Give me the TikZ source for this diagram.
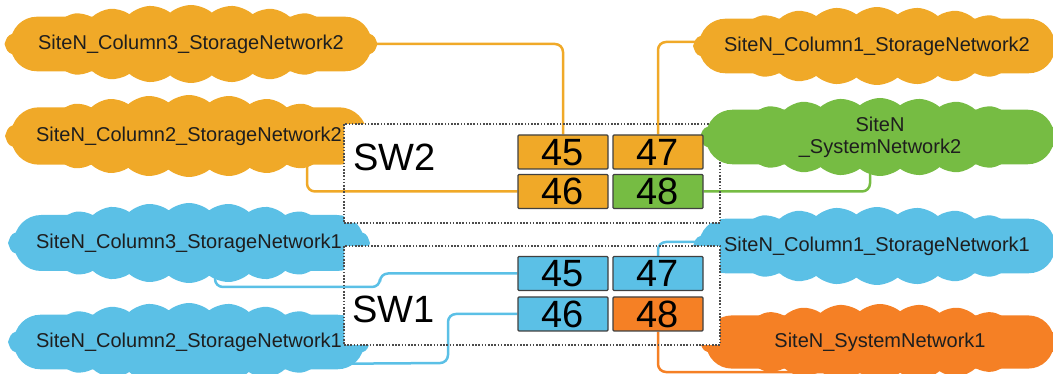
\documentclass[tikz,border=0pt]{standalone}
\usepackage{fontspec}
\setmainfont{Liberation Sans}
\usetikzlibrary{shapes.symbols}
\pgfdeclarelayer{bg}
\pgfsetlayers{bg,main}
\definecolor{corange}{RGB}{240,169,40}
\definecolor{cblue}{RGB}{91,192,230}
\definecolor{cgreen}{RGB}{118,188,67}
\definecolor{cred}{RGB}{245,128,37}
\definecolor{ctext}{RGB}{30,30,30}
\tikzset{
  cloudnode/.style={cloud, cloud puffs=28, cloud puff arc=80, cloud ignores aspect,
    draw=none, inner sep=0pt},
  cloudtext/.style={inner sep=0pt, text=ctext, font=\fontsize{20}{22}\selectfont, align=center},
  port/.style={draw=black!75, line width=1.4pt, rounded corners=1pt,
    minimum width=90pt, minimum height=34pt, inner sep=0pt,
    font=\fontsize{38}{38}\selectfont, text height=27pt, text depth=0pt},
  swbox/.style={draw=black!70, line width=1.2pt, dash pattern=on 1.6pt off 1.6pt,
    minimum width=376pt, minimum height=99pt, inner sep=0pt},
  swlabel/.style={anchor=west, inner sep=0pt, font=\fontsize{38}{38}\selectfont,
    text height=27pt, text depth=0pt},
  conn/.style={line width=2.5pt, rounded corners=8pt},
}
% name, x, y, width, height, colour, text
\newcommand\netcloud[7]{%
  \fill[#6, rounded corners=#5*0.34] (#2-#4/2+6, #3-#5*0.35) rectangle (#2+#4/2-6, #3+#5*0.35);
  \node[cloudnode, fill=#6, minimum width=#4pt, minimum height=#5pt,
    label={[cloudtext]center:#7}] (#1) at (#2,#3) {};
}
\begin{document}
\begin{tikzpicture}[x=1pt,y=-1pt]
\useasboundingbox (0,0) rectangle (1053,374);
\begin{scope}
  \clip (0,0) -- (1053,0) -- (1053,374) -- (0,374) -- cycle
        (344,124) -- (344,223) -- (720,223) -- (720,124) -- cycle
        (344,246) -- (344,345) -- (720,345) -- (720,246) -- cycle;
  \netcloud{cl3n2}{191}{44}{373}{78}{corange}{SiteN\_Column3\_StorageNetwork2}
  \netcloud{cl2n2}{189}{136}{368}{82}{corange}{SiteN\_Column2\_StorageNetwork2}
  \netcloud{cb3}{189}{243}{362}{80}{cblue}{SiteN\_Column3\_StorageNetwork1}
  \netcloud{cb2}{189}{342}{362}{78}{cblue}{SiteN\_Column2\_StorageNetwork1}
  \netcloud{cr1n2}{877}{46}{368}{78}{corange}{SiteN\_Column1\_StorageNetwork2}
  \netcloud{cr1n1}{877}{246}{368}{78}{cblue}{SiteN\_Column1\_StorageNetwork1}
  \netcloud{cso1}{880}{342}{360}{76}{cred}{SiteN\_SystemNetwork1}
\end{scope}
\node[swbox] (sw2) at (532,173.5) {};
\node[swbox] (sw1) at (532,295.5) {};
\netcloud{cg}{880}{137}{360}{78}{cgreen}{SiteN\\\_SystemNetwork2}
\node[swlabel] (sw2l) at (353,157) {SW2};
\node[swlabel] (sw1l) at (352,309) {SW1};
\node[port, fill=corange] (sw2p45) at (563,152) {45};
\node[port, fill=corange] (sw2p47) at (658,152) {47};
\node[port, fill=corange] (sw2p46) at (563,191.5) {46};
\node[port, fill=cgreen] (sw2p48) at (658,191.5) {48};
\node[port, fill=cblue] (sw1p45) at (563,273.5) {45};
\node[port, fill=cblue] (sw1p47) at (658,273.5) {47};
\node[port, fill=cblue] (sw1p46) at (563,314) {46};
\node[port, fill=cred] (sw1p48) at (658,314) {48};
\begin{pgfonlayer}{bg}
  \draw[conn, corange] (cl3n2.center) -| (sw2p45.north);
  \draw[conn, corange] ([xshift=118pt]cl2n2.center) |- (sw2p46.west);
  \draw[conn, corange] (sw2p47.north) |- ([yshift=4pt]cr1n2.center);
  \draw[conn, cgreen] (sw2p48.east) -| ([xshift=-10pt]cg.center);
  \draw[conn, cblue] ([xshift=26pt]cb3.center) |- (380,287) |- (sw1p45.west);
  \draw[conn, cblue] ([xshift=110pt,yshift=-22pt]cb2.center) -- (448,363) |- (sw1p46.west);
  \draw[conn, cblue] (sw1p47.north) |- ([yshift=4pt]cr1n1.center);
  \draw[conn, cred] (sw1p48.south) |- ([yshift=-30pt]cso1.center);
\end{pgfonlayer}
\end{tikzpicture}
\end{document}
